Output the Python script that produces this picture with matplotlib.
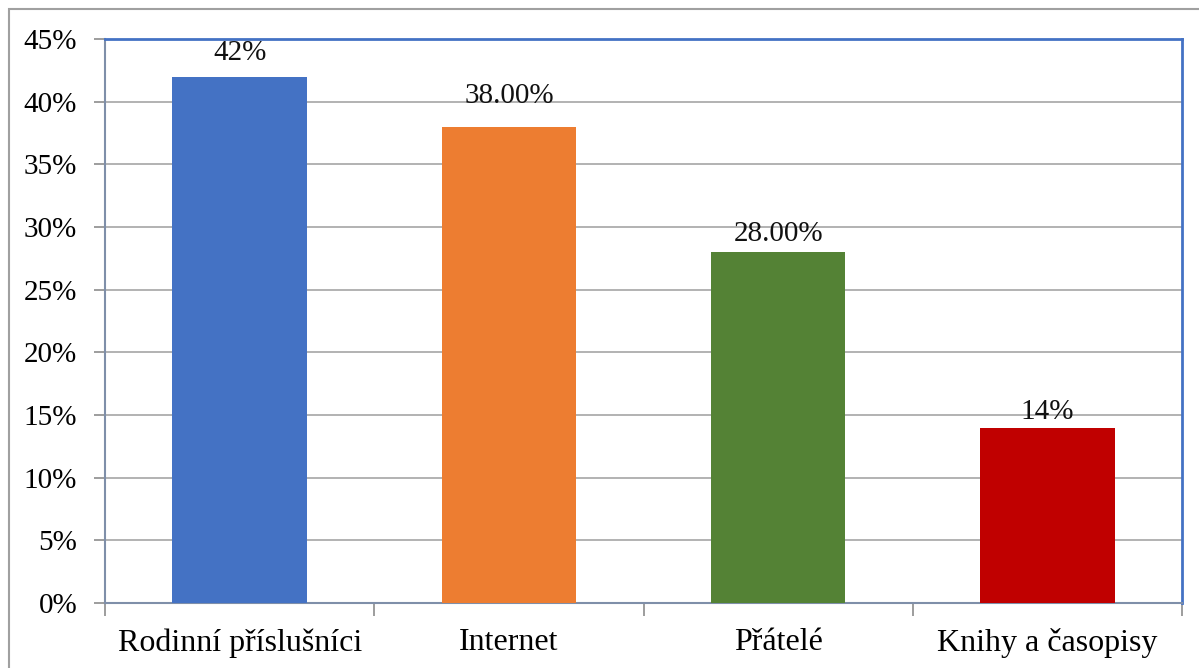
import matplotlib.pyplot as plt
from matplotlib.patches import Rectangle
from matplotlib.ticker import MultipleLocator, FuncFormatter, FixedLocator

# data
categories = ['Rodinní příslušníci', 'Internet', 'Přátelé', 'Knihy a časopisy']
values = [42, 38, 28, 14]
labels = ['42%', '38.00%', '28.00%', '14%']
bar_colors = ['#4472C4', '#ED7D31', '#548235', '#C00000']
# data labels sit at slightly different heights above the bars (points)
label_lift = [12, 17, 8, 6.5]

plt.rcParams['font.family'] = ['Liberation Serif', 'DejaVu Serif']

fig = plt.figure(figsize=(11.99, 6.68), dpi=100)
ax = fig.add_axes([105 / 1199, 1 - 603 / 668, (1182 - 105) / 1199, (603 - 39) / 668])

# outer chart border
fig.patches.append(Rectangle((9 / 1199, -0.1), 1.2, 1 - 9.5 / 668 + 0.1,
                             transform=fig.transFigure, fill=False,
                             edgecolor='#A0A0A0', linewidth=1.5))

x = range(len(categories))
bars = ax.bar(x, values, width=0.5, color=bar_colors, zorder=3)

for b, lab, lift in zip(bars, labels, label_lift):
    ax.annotate(lab, (b.get_x() + b.get_width() / 2, b.get_height()),
                xytext=(0, lift), textcoords='offset points',
                ha='center', va='baseline', fontsize=21, color='#111111',
                zorder=4)

ax.set_xlim(-0.5, len(categories) - 0.5)
ax.set_ylim(0, 45)
ax.yaxis.set_major_locator(MultipleLocator(5))
ax.yaxis.set_major_formatter(FuncFormatter(lambda v, p: f'{v:.0f}%'))
ax.grid(axis='y', color='#A6A6A6', linewidth=1.2, zorder=0)

ax.set_xticks(list(x))
ax.set_xticklabels(categories, fontsize=23)
ax.tick_params(axis='x', length=0, pad=18)
ax.xaxis.set_minor_locator(FixedLocator([i - 0.5 for i in range(len(categories) + 1)]))
ax.tick_params(axis='x', which='minor', length=9, width=1.2, color='#8C8C8C')
ax.tick_params(axis='y', length=8, width=1.2, color='#8C8C8C', labelsize=21, pad=12)

for s in ['top', 'right']:
    ax.spines[s].set_color('#4472C4')
    ax.spines[s].set_linewidth(2)
for s in ['left', 'bottom']:
    ax.spines[s].set_color('#7F8FA9')
    ax.spines[s].set_linewidth(1.5)

fig.savefig('out.png', dpi=100)
